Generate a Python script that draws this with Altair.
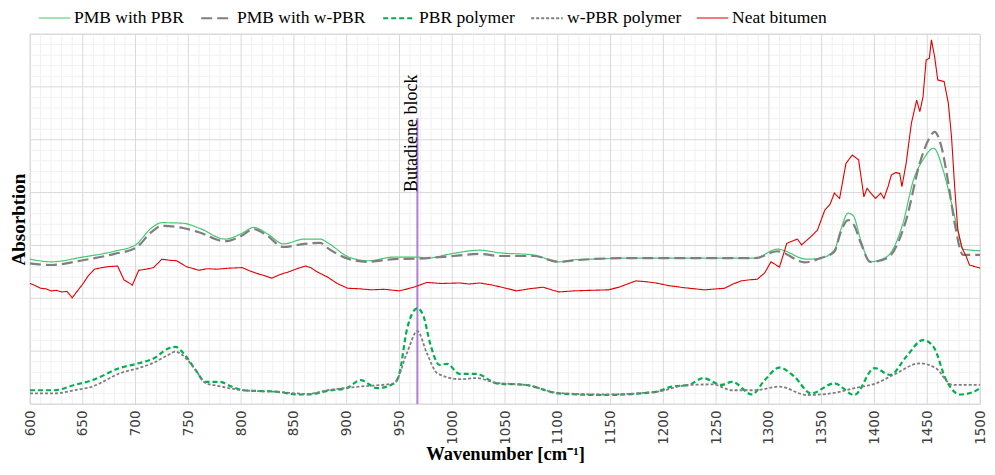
import altair as alt
import pandas as pd

# ---------------- data ----------------
series_names = ["PMB with PBR", "PMB with w-PBR", "PBR polymer", "w-PBR polymer", "Neat bitumen"]

pmb_pbr_x = [600, 620, 650, 680, 700, 715, 725, 745, 760, 785, 800, 812, 825, 840, 860, 875, 882, 901, 920, 945,
             967, 976, 1001, 1026, 1045, 1077, 1101, 1117, 1133, 1164, 1193, 1287, 1308, 1336, 1349, 1362, 1368,
             1375, 1380, 1387, 1396, 1412, 1427, 1437, 1447, 1456, 1465, 1473, 1479, 1484, 1500]
pmb_pbr_y = [2.74, 2.69, 2.78, 2.89, 3.01, 3.33, 3.43, 3.42, 3.33, 3.12, 3.22, 3.34, 3.22, 3.03, 3.12, 3.12, 3.05,
             2.79, 2.71, 2.78, 2.78, 2.76, 2.85, 2.91, 2.86, 2.82, 2.69, 2.73, 2.74, 2.76, 2.76, 2.76, 2.93, 2.74,
             2.76, 2.91, 3.29, 3.61, 3.56, 3.10, 2.69, 2.79, 3.42, 4.24, 4.65, 4.84, 4.43, 3.80, 3.29, 2.93, 2.90]

pmb_wpbr_x = [600, 620, 650, 680, 700, 715, 725, 745, 760, 785, 800, 812, 825, 840, 860, 875, 882, 901, 920, 945,
              967, 1001, 1026, 1045, 1077, 1101, 1117, 1164, 1193, 1287, 1308, 1334, 1349, 1362, 1368, 1375, 1380,
              1387, 1396, 1412, 1430, 1443, 1452, 1457, 1463, 1470, 1476, 1484, 1500]
pmb_wpbr_y = [2.66, 2.63, 2.72, 2.84, 2.95, 3.25, 3.37, 3.33, 3.25, 3.08, 3.18, 3.31, 3.18, 2.97, 3.03, 3.05, 2.95,
              2.75, 2.69, 2.74, 2.75, 2.80, 2.84, 2.80, 2.80, 2.69, 2.72, 2.76, 2.76, 2.76, 2.89, 2.68, 2.76, 2.88,
              3.25, 3.48, 3.41, 3.05, 2.69, 2.76, 3.48, 4.56, 5.03, 5.15, 4.90, 4.18, 3.42, 2.82, 2.82]

pbr_x = [600, 623, 642, 659, 685, 703, 717, 731, 738, 744, 757, 766, 779, 791, 802, 835, 854, 863, 882, 900, 913,
         929, 945, 950, 957, 967, 973, 979, 988, 995, 1007, 1023, 1042, 1070, 1101, 1143, 1193, 1208, 1224, 1238,
         1255, 1265, 1284, 1296, 1310, 1324, 1340, 1362, 1381, 1400, 1415, 1430, 1446, 1456, 1468, 1481, 1494, 1500]
pbr_y = [0.26, 0.26, 0.36, 0.45, 0.68, 0.77, 0.86, 1.05, 1.08, 0.99, 0.64, 0.42, 0.42, 0.33, 0.26, 0.23, 0.18, 0.18,
         0.25, 0.30, 0.45, 0.30, 0.39, 0.58, 1.40, 1.81, 1.65, 1.15, 0.74, 0.76, 0.57, 0.57, 0.39, 0.36, 0.20, 0.17,
         0.23, 0.33, 0.36, 0.49, 0.36, 0.42, 0.18, 0.45, 0.69, 0.52, 0.20, 0.39, 0.17, 0.68, 0.55, 0.89, 1.21, 1.08,
         0.45, 0.18, 0.23, 0.30]

wpbr_x = [600, 623, 642, 659, 685, 703, 717, 731, 738, 744, 757, 766, 779, 802, 835, 863, 882, 913, 945, 957, 967,
          976, 986, 1007, 1023, 1042, 1070, 1101, 1143, 1193, 1224, 1247, 1265, 1287, 1310, 1336, 1362, 1381, 1400,
          1418, 1443, 1458, 1474, 1500]
wpbr_y = [0.20, 0.20, 0.26, 0.33, 0.58, 0.68, 0.78, 0.93, 0.99, 0.93, 0.64, 0.40, 0.34, 0.26, 0.23, 0.19, 0.26,
          0.33, 0.39, 0.96, 1.38, 0.96, 0.58, 0.47, 0.49, 0.40, 0.36, 0.21, 0.18, 0.23, 0.36, 0.37, 0.26, 0.26, 0.33,
          0.17, 0.21, 0.30, 0.38, 0.55, 0.77, 0.68, 0.36, 0.36]

bit_x = [600, 605, 610, 615, 620, 625, 630, 635, 640, 645, 650, 655, 661, 668, 675, 683, 689, 697, 703, 710, 717,
         725, 732, 739, 748, 760, 768, 777, 789, 801, 808, 815, 822, 829, 837, 845, 853, 861, 866, 872, 882, 891,
         901, 912, 923, 936, 950, 958, 965, 976, 990, 1007, 1016, 1026, 1038, 1051, 1061, 1073, 1086, 1094, 1101,
         1115, 1130, 1148, 1158, 1174, 1185, 1193, 1205, 1220, 1239, 1258, 1266, 1274, 1282, 1289, 1296, 1302,
         1310, 1317, 1322, 1327, 1331, 1336, 1340, 1346, 1353, 1358, 1362, 1367, 1373, 1379, 1385, 1390, 1393,
         1397, 1401, 1406, 1409, 1413, 1416, 1420, 1424, 1426, 1430, 1435, 1440, 1443, 1446, 1449, 1452, 1454,
         1457, 1460, 1466, 1470, 1473, 1476, 1479, 1483, 1487, 1490, 1495, 1500]
bit_y = [2.28, 2.24, 2.19, 2.18, 2.14, 2.15, 2.12, 2.13, 2.01, 2.14, 2.27, 2.42, 2.55, 2.58, 2.60, 2.61, 2.35,
         2.25, 2.53, 2.55, 2.58, 2.74, 2.72, 2.71, 2.60, 2.53, 2.56, 2.55, 2.57, 2.58, 2.52, 2.47, 2.43, 2.38,
         2.45, 2.50, 2.56, 2.61, 2.58, 2.50, 2.40, 2.28, 2.19, 2.18, 2.16, 2.17, 2.14, 2.18, 2.22, 2.30, 2.28,
         2.29, 2.27, 2.29, 2.25, 2.19, 2.14, 2.18, 2.21, 2.16, 2.12, 2.14, 2.15, 2.16, 2.21, 2.33, 2.31, 2.29,
         2.24, 2.20, 2.16, 2.19, 2.27, 2.33, 2.35, 2.36, 2.48, 2.69, 2.59, 3.04, 3.08, 3.12, 3.01, 3.10, 3.17,
         3.29, 3.67, 3.78, 3.99, 3.89, 4.55, 4.71, 4.62, 3.92, 4.08, 3.98, 3.89, 3.99, 3.89, 4.12, 4.33, 4.38,
         4.36, 4.11, 4.55, 5.31, 5.75, 5.53, 5.81, 6.51, 6.54, 6.89, 6.57, 6.13, 6.10, 5.69, 5.06, 4.11, 3.29,
         2.95, 2.79, 2.63, 2.60, 2.57]

marker_x = [967]
marker_bottom = [0.0]
marker_top = [5.41]
marker_text_y = [4.01]
marker_label = ["Butadiene block"]

x_ticks = [600, 650, 700, 750, 800, 850, 900, 950, 1000, 1050, 1100, 1150, 1200, 1250, 1300, 1350, 1400, 1450, 1500]

# ---------------- styling ----------------
colors = ["#44c870", "#7f7f7f", "#00b050", "#7f7f7f", "#e00000"]
dashes = [[1, 0], [11, 5], [5, 3], [3, 2], [1, 0]]
widths = [1.2, 2.2, 2.2, 1.8, 1.1]
SERIF = "Liberation Serif"
XT = "Wavenumber [cm⁻¹]"
YT = "Absorbtion"

rows = []
for name, xs, ys in [("PMB with PBR", pmb_pbr_x, pmb_pbr_y), ("PMB with w-PBR", pmb_wpbr_x, pmb_wpbr_y),
                     ("PBR polymer", pbr_x, pbr_y), ("w-PBR polymer", wpbr_x, wpbr_y),
                     ("Neat bitumen", bit_x, bit_y)]:
    for a, b in zip(xs, ys):
        rows.append({"series": name, "w": a, "v": b})
df = pd.DataFrame(rows)
smooth_df = df[df.series != "Neat bitumen"]
rough_df = df[df.series == "Neat bitumen"]

xscale = alt.Scale(domain=[600, 1500], nice=False, zero=False)
yscale = alt.Scale(domain=[0, 7], nice=False, zero=False)

xaxis = alt.Axis(values=x_ticks, format="d", labelAngle=270, labelFont="DejaVu Sans", labelFontSize=13.5,
                 labelColor="#404040", ticks=False, domain=False, grid=False, labelPadding=6,
                 titleFont=SERIF, titleFontSize=18.5, titleFontWeight="bold",
                 titleColor="#000000", titlePadding=0)
yaxis = alt.Axis(labels=False, ticks=False, domain=False, grid=False, titleFont=SERIF,
                 titleFontSize=19, titleFontWeight="bold", titleColor="#000000", titlePadding=2)

minor_x = pd.DataFrame({"g": [v for v in range(600, 1501, 10) if v % 50 != 0]})
minor_y = pd.DataFrame({"g": [i / 5 for i in range(0, 36) if i % 5 != 0]})
major_x = pd.DataFrame({"g": x_ticks})
major_y = pd.DataFrame({"g": list(range(0, 8))})

def X(field):
    return alt.X(field, scale=xscale, axis=xaxis, title=XT)

def Y(field):
    return alt.Y(field, scale=yscale, axis=yaxis, title=YT)

def vrules(d, color):
    return alt.Chart(d).mark_rule(color=color, strokeWidth=1).encode(x=X("g:Q"))

def hrules(d, color):
    return alt.Chart(d).mark_rule(color=color, strokeWidth=1).encode(y=Y("g:Q"))

legend = alt.Legend(title=None, orient="none", legendX=8, legendY=-33, direction="horizontal",
                    symbolType="stroke", symbolSize=1000, labelFont=SERIF, labelFontSize=17.5,
                    labelColor="#000000", columnPadding=12, labelOffset=3, padding=0,
                    labelLimit=300)

enc_common = dict(
    color=alt.Color("series:N", scale=alt.Scale(domain=series_names, range=colors), legend=legend,
                    sort=series_names),
    strokeDash=alt.StrokeDash("series:N", scale=alt.Scale(domain=series_names, range=dashes), legend=legend,
                              sort=series_names),
    strokeWidth=alt.StrokeWidth("series:N", scale=alt.Scale(type="ordinal", domain=series_names, range=widths),
                                legend=legend, sort=series_names),
)

smooth = alt.Chart(smooth_df).mark_line(interpolate="monotone").encode(
    x=X("w:Q"), y=Y("v:Q"), order=alt.Order("w:Q"), **enc_common)

rough = alt.Chart(rough_df).mark_line(interpolate="linear").encode(
    x=X("w:Q"), y=Y("v:Q"), order=alt.Order("w:Q"), **enc_common)

mk = pd.DataFrame({"x": marker_x, "bottom": marker_bottom, "top": marker_top, "ty": marker_text_y,
                   "label": marker_label})
marker = alt.Chart(mk).mark_rule(color="#b07fd0", strokeWidth=2).encode(
    x=X("x:Q"), y=Y("bottom:Q"), y2="top:Q")
marker_text = alt.Chart(mk).mark_text(angle=270, align="left", baseline="alphabetic", font=SERIF,
                                      fontSize=18, color="#000000").encode(
    x=X("x:Q"), y=Y("ty:Q"), text="label:N")

chart = alt.layer(
    vrules(minor_x, "#f0f0f0"), hrules(minor_y, "#f0f0f0"),
    vrules(major_x, "#d9d9d9"), hrules(major_y, "#d9d9d9"),
    marker, smooth, rough, marker_text
).properties(
    width=950, height=370,
    padding={"left": 22, "top": 26, "right": 7, "bottom": 62},
    autosize=alt.AutoSizeParams(type="none"),
).configure_view(stroke="#c0c0c0", strokeWidth=1.5).configure(background="#ffffff")

chart.save("out.html", embed_options={"renderer": "svg", "actions": False})
